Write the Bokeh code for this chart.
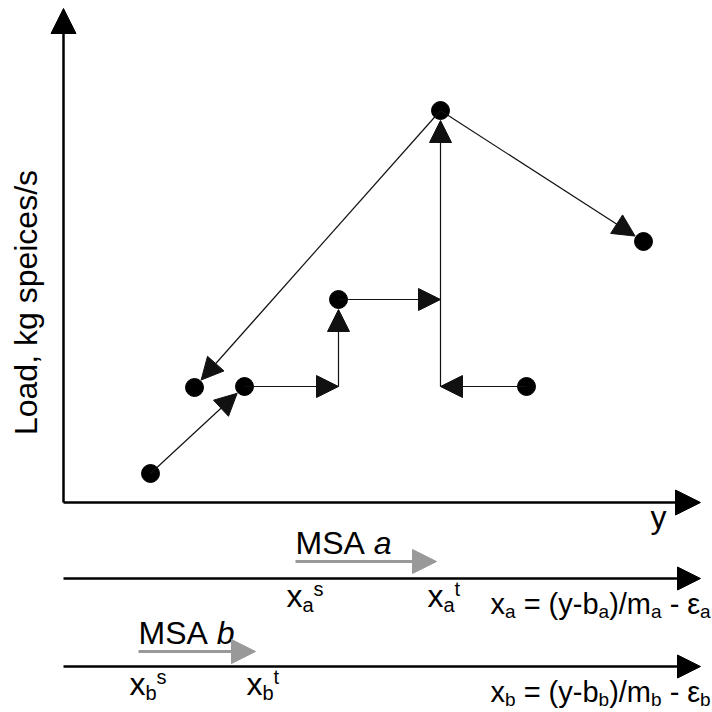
import math
from bokeh.plotting import figure
from bokeh.models import Range1d, ColumnDataSource, Arrow, NormalHead
from bokeh.core.properties import value
from bokeh.embed import file_html
from bokeh.resources import INLINE

# ---------------- data (diagram units: horizontal = y, vertical = load) ----------------
node_y = [8.7, 13.1, 18.1, 27.5, 37.7, 58.0, 46.3]
node_load = [2.9, 11.5, 11.6, 20.3, 39.2, 26.1, 11.6]

arrow_from_y = [8.7, 18.1, 27.5, 27.5, 46.3, 37.7, 37.7, 37.7]
arrow_from_load = [2.9, 11.6, 11.6, 20.3, 11.6, 11.6, 39.2, 39.2]
arrow_to_y = [18.1, 27.5, 27.5, 37.7, 37.7, 37.7, 58.0, 13.1]
arrow_to_load = [11.6, 11.6, 20.3, 20.3, 11.6, 39.2, 26.1, 11.5]
arrow_to_node = [True, False, True, False, False, True, True, True]

axis_end_y = 63.7
axis_end_load = 49.4
msa_axis_level = [-7.6, -16.4]          # positions of the x_a and x_b axes
msa_names = ["a", "b"]
msa_start = [23.2, 7.5]                  # x^s of each MSA
msa_end = [37.3, 19.2]                   # x^t of each MSA
msa_arrow_level = [-5.9, -14.9]

y_label = "y"
load_label = "Load, kg speices/s"

FONT = "Liberation Sans"
BLACK = "#000000"
GREY = "#999999"
BASE_FIX = 0.3   # em shift so that the alphabetic baseline lands where intended

p = figure(width=712, height=712, x_range=Range1d(-6.3, 64.9), y_range=Range1d(-21.0, 50.2),
           output_backend="svg", toolbar_location=None, min_border=0,
           x_axis_location=None, y_axis_location=None, outline_line_color=None,
           background_fill_color="white", border_fill_color="white")
p.grid.grid_line_color = None

def add_arrows(x0, y0, x1, y1, color, lw, head):
    src = ColumnDataSource(dict(x0=x0, y0=y0, x1=x1, y1=y1))
    p.add_layout(Arrow(x_start="x0", y_start="y0", x_end="x1", y_end="y1", source=src,
                       line_color=color, line_width=lw,
                       end=NormalHead(size=head, fill_color=color, line_color=color, line_width=1)))

# main axes
add_arrows([0, 0], [0, 0], [0, axis_end_y], [axis_end_load, 0], BLACK, 2.5, 25)
# MSA axes
add_arrows([0] * len(msa_axis_level), msa_axis_level, [axis_end_y] * len(msa_axis_level),
           msa_axis_level, BLACK, 2.5, 23)
# MSA grey arrows
add_arrows(msa_start, msa_arrow_level, msa_end, msa_arrow_level, GREY, 3, 24)

# diagram arrows, shortened before dots
gap = 1.0
ex, ey = [], []
for fx, fy, tx, ty, tn in zip(arrow_from_y, arrow_from_load, arrow_to_y, arrow_to_load, arrow_to_node):
    if tn:
        dx, dy = tx - fx, ty - fy
        L = math.hypot(dx, dy)
        ex.append(tx - gap * dx / L)
        ey.append(ty - gap * dy / L)
    else:
        ex.append(tx)
        ey.append(ty)
add_arrows(arrow_from_y, arrow_from_load, ex, ey, "#111111", 1.2, 22)

p.scatter(node_y, node_load, size=18, fill_color=BLACK, line_color=BLACK)

# ---------------- text helpers ----------------
W = {' ': 278, '(': 333, ')': 333, '-': 333, '/': 278, '=': 584, 'x': 500, 'y': 500,
     'b': 556, 'm': 833, 'a': 556, 's': 500, 't': 278, 'M': 833, 'S': 667, 'A': 667, 'ε': 440}

def tw(s, size):
    return sum(W.get(c, 556) for c in s) * size / 1000.0

def rich(x, y, parts, size, subsize, x0=0.0, sub_dy=5, sup_dy=-11):
    cur = x0
    for txt, kind in parts:
        fs = size if kind in ("n", "i") else subsize
        stripped = txt.lstrip(" ")
        cur += tw(txt[:len(txt) - len(stripped)], fs)
        yo = {"n": 0, "i": 0, "sub": sub_dy, "sup": sup_dy}[kind] - BASE_FIX * fs
        p.text(x=[x], y=[y], text=[stripped], x_offset=cur, y_offset=yo,
               text_font=value(FONT), text_font_size=f"{fs}px",
               text_font_style="italic" if kind == "i" else "normal",
               text_color=BLACK, text_align="left", text_baseline="alphabetic")
        cur += tw(stripped, fs)

# axis labels
p.text(x=[-2.8], y=[20.0], text=[load_label], angle=math.pi / 2, text_font=value(FONT),
       x_offset=-BASE_FIX * 32, text_font_size="32px", text_align="center",
       text_baseline="alphabetic", text_color=BLACK)
rich(58.7, -2.4, [(y_label, "n")], 32, 20)

for name, xs, xt, lvl, al in zip(msa_names, msa_start, msa_end, msa_axis_level, msa_arrow_level):
    # MSA title above grey arrow
    rich(xs, al + 0.9, [("MSA ", "n"), (name, "i")], 32, 20)
    # x^s and x^t under the axis
    for x_, sup in ((xs, "s"), (xt, "t")):
        rich(x_, lvl - 2.7, [("x", "n"), (name, "sub"), (sup, "sup")], 32, 20, x0=-9)
    # equation
    rich(42.7, lvl - 3.4, [("x", "n"), (name, "sub"), (" = (y-b", "n"), (name, "sub"),
                          (")/m", "n"), (name, "sub"), (" - ε", "n"), (name, "sub")], 29, 19)

open("out.html", "w").write(file_html(p, INLINE))
